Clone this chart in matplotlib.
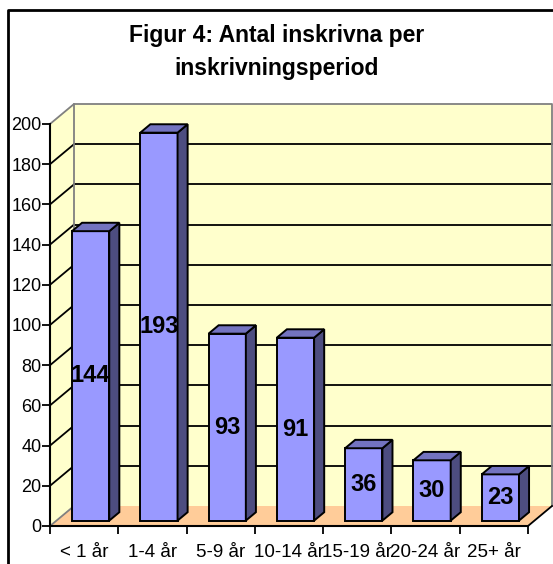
import numpy as np
import matplotlib
matplotlib.use("Agg")
import matplotlib.pyplot as plt
from matplotlib.patches import Polygon
from matplotlib.lines import Line2D

plt.rcParams['font.family'] = ['Liberation Sans', 'DejaVu Sans']

# data
categories = ["< 1 år", "1-4 år", "5-9 år", "10-14 år", "15-19 år", "20-24 år", "25+ år"]
counts = [144, 193, 93, 91, 36, 30, 23]
title = "Figur 4: Antal inskrivna per\ninskrivningsperiod"

y_max = 200
y_step = 20

# colours of the old spreadsheet style
wall_col = "#FFFFCC"
floor_col = "#FFCC99"
edge_grey = "#808080"
bar_front = "#9999FF"
bar_side = "#4D4D80"
bar_top = "#7373C0"

W, H, DPI = 553, 564, 100
fig = plt.figure(figsize=(W / DPI, H / DPI), dpi=DPI)
fig.patch.set_facecolor("white")

# front plane of the chart in pixels
left_px, right_px, top_px, bottom_px = 50, 528, 124, 526
ax = fig.add_axes([left_px / W, 1 - bottom_px / H,
                   (right_px - left_px) / W, (bottom_px - top_px) / H])
ax.set_facecolor("none")

n = len(categories)
ax.set_xlim(0, n)
ax.set_ylim(0, y_max)

# oblique depth offset (data units) for full depth
DX = 24 / (right_px - left_px) * n
DY = 20 / (bottom_px - top_px) * y_max


def poly(pts, fc, ec="none", lw=0, z=1):
    p = Polygon(pts, closed=True, facecolor=fc, edgecolor=ec, linewidth=lw,
                zorder=z, clip_on=False, joinstyle="miter")
    ax.add_patch(p)


def line(xs, ys, c="black", lw=1.3, z=2):
    ax.add_line(Line2D(xs, ys, color=c, linewidth=lw, zorder=z, clip_on=False))


# walls and floor
poly([(DX, DY), (DX, y_max + DY), (n + DX, y_max + DY), (n + DX, DY)], wall_col, z=0.5)
poly([(0, 0), (0, y_max), (DX, y_max + DY), (DX, DY)], wall_col, z=0.5)
poly([(0, 0), (n, 0), (n + DX, DY), (DX, DY)], floor_col, z=0.6)

# gridlines on back and side wall
for v in range(y_step, y_max, y_step):
    line([DX, n + DX], [v + DY, v + DY], lw=1.3, z=0.8)
    line([0, DX], [v, v + DY], lw=1.3, z=0.8)

# wall edges
line([0, DX, n + DX, n + DX], [y_max, y_max + DY, y_max + DY, DY], c=edge_grey, lw=1.3, z=0.9)
line([DX, DX], [DY, y_max + DY], c=edge_grey, lw=1.3, z=0.9)
line([0, DX], [0, DY], c=edge_grey, lw=1.3, z=0.9)
line([n, n + DX], [0, DY], c="black", lw=1.3, z=0.9)

# bars
f0, f1 = 0.27, 0.69
bw = 0.546
for i, v in enumerate(counts):
    x0 = i + (1 - bw) / 2 + f0 * DX
    x1 = x0 + bw
    y0 = f0 * DY
    y1 = y0 + v
    ddx = (f1 - f0) * DX
    ddy = (f1 - f0) * DY
    poly([(x0, y0), (x1, y0), (x1, y1), (x0, y1)], bar_front, "black", 1.4, z=3)
    poly([(x1, y0), (x1 + ddx, y0 + ddy), (x1 + ddx, y1 + ddy), (x1, y1)],
         bar_side, "black", 1.4, z=3)
    poly([(x0, y1), (x1, y1), (x1 + ddx, y1 + ddy), (x0 + ddx, y1 + ddy)],
         bar_top, "black", 1.4, z=3)
    ax.text((x0 + x1) / 2, y0 + v / 2, str(v), ha="center", va="center",
            fontsize=17, fontweight="bold", zorder=4)

# axes
for s in ["top", "right"]:
    ax.spines[s].set_visible(False)
ax.spines["left"].set_linewidth(1.5)
ax.spines["bottom"].set_linewidth(1.5)
ax.spines["left"].set_zorder(2.5)
ax.spines["bottom"].set_zorder(2.5)

ax.set_yticks(np.arange(0, y_max + 1, y_step))
ax.tick_params(axis="y", direction="out", length=6, width=1.3, pad=0, labelsize=13)

ax.set_xticks(np.arange(0, n + 1))
ax.set_xticklabels([])
ax.set_xticks(np.arange(n) + 0.5, minor=True)
ax.set_xticklabels(categories, minor=True)
ax.tick_params(axis="x", which="major", direction="out", length=6, width=1.3)
ax.tick_params(axis="x", which="minor", length=0, pad=13, labelsize=13.5)

# title and frame
fig.text(0.5, 1 - 52 / H, title, ha="center", va="center", fontsize=16.5,
         fontweight="bold", linespacing=1.6)
fig.add_artist(Line2D([8 / W, 8 / W, 1.01], [0, 1 - 9.5 / H, 1 - 9.5 / H],
                      transform=fig.transFigure, color="black", linewidth=2))

fig.savefig("out.png", dpi=DPI)
